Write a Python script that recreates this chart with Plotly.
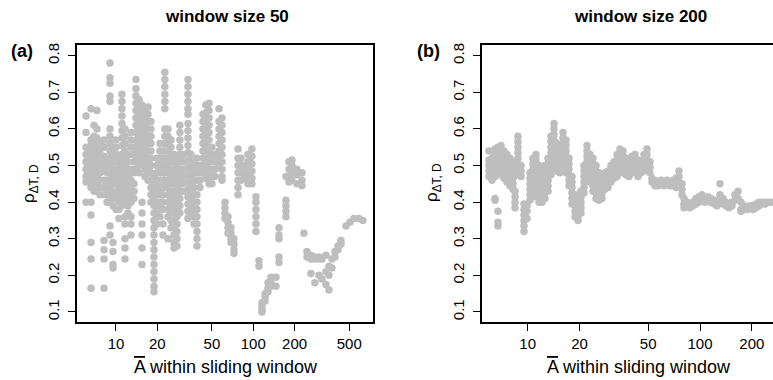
import plotly.graph_objects as go

# ---- window size 50: each column holds correlation values whose window mean sits near one x ----
a_x = [6.05, 6.25, 6.58, 6.92, 7.27, 7.64, 8.18, 8.60, 9.04, 9.51,
       10.0, 10.5, 11.06, 11.63, 12.23, 12.86, 13.52, 13.98, 14.71, 15.47,
       16.26, 17.11, 17.98, 18.91, 19.89, 20.9, 21.99, 22.7, 23.91, 25.15,
       26.45, 27.81, 29.2, 30.76, 33.45, 35.17, 37.0, 38.9, 40.9, 43.0,
       45.2, 47.6, 50.0, 52.6, 56.3, 59.2, 62.2, 65.4, 68.8, 72.3,
       77.4, 81.4, 85.6, 91.5, 97.8, 104.6, 110, 115.7, 122, 128,
       134.6, 146.3, 153.9, 173, 182, 191.4, 208, 226.3, 234, 246,
       263, 281, 301, 316.5, 338.5, 356, 374.4, 393.7, 414, 435.3,
       473.4, 506, 541, 588.6, 629.5]
a_y = [
    [0.635, 0.59, 0.55, 0.53, 0.51, 0.49, 0.47, 0.455, 0.40],
    [0.545, 0.52, 0.50, 0.48, 0.46],
    [0.655, 0.57, 0.555, 0.535, 0.515, 0.50, 0.485, 0.47, 0.455, 0.44, 0.40, 0.365, 0.29, 0.245, 0.165],
    [0.61, 0.58, 0.56, 0.54, 0.52, 0.50, 0.48, 0.46, 0.44, 0.43],
    [0.65, 0.60, 0.575, 0.55, 0.53, 0.51, 0.49, 0.47, 0.45, 0.43],
    [0.56, 0.54, 0.52, 0.50, 0.48, 0.46, 0.44, 0.42],
    [0.57, 0.55, 0.525, 0.505, 0.485, 0.46, 0.44, 0.42, 0.295, 0.27, 0.245, 0.165],
    [0.52, 0.50, 0.48, 0.46, 0.44, 0.42, 0.40],
    [0.78, 0.74, 0.725, 0.69, 0.675, 0.60, 0.58, 0.56, 0.54, 0.52, 0.50, 0.48, 0.46, 0.44, 0.42, 0.40, 0.335, 0.31],
    [0.55, 0.53, 0.51, 0.49, 0.47, 0.45, 0.43, 0.41, 0.39, 0.29, 0.265, 0.23, 0.22],
    [0.57, 0.55, 0.53, 0.51, 0.49, 0.47, 0.45, 0.43, 0.41, 0.38],
    [0.52, 0.50, 0.48, 0.46, 0.44, 0.42, 0.40, 0.38, 0.355],
    [0.695, 0.675, 0.655, 0.635, 0.615, 0.595, 0.575, 0.555, 0.53, 0.51, 0.49, 0.47, 0.45, 0.43, 0.41, 0.39],
    [0.60, 0.58, 0.56, 0.54, 0.52, 0.50, 0.48, 0.46, 0.44, 0.42, 0.40, 0.36, 0.34, 0.30, 0.275, 0.245],
    [0.53, 0.51, 0.49, 0.47, 0.45, 0.43, 0.41, 0.39, 0.37],
    [0.59, 0.57, 0.55, 0.53, 0.49, 0.46, 0.44, 0.42, 0.40, 0.36, 0.34, 0.31],
    [0.55, 0.53, 0.51, 0.48, 0.45, 0.43, 0.41],
    [0.735, 0.71, 0.69, 0.67, 0.65, 0.63, 0.61, 0.59, 0.57, 0.55, 0.53, 0.51, 0.49],
    [0.68, 0.66, 0.64, 0.62, 0.60, 0.58, 0.56, 0.54, 0.52, 0.50, 0.48],
    [0.665, 0.645, 0.625, 0.605, 0.585, 0.565, 0.545, 0.525, 0.505, 0.40, 0.37, 0.34, 0.31, 0.275, 0.23],
    [0.65, 0.63, 0.61, 0.59, 0.57, 0.55, 0.53, 0.51, 0.49, 0.47],
    [0.66, 0.64, 0.62, 0.60, 0.58, 0.56, 0.54, 0.52, 0.50, 0.48, 0.46],
    [0.62, 0.60, 0.58, 0.56, 0.54, 0.52, 0.50, 0.48, 0.44, 0.42, 0.40],
    [0.47, 0.45, 0.43, 0.41, 0.39, 0.37, 0.35, 0.33, 0.31, 0.29, 0.27, 0.25, 0.23, 0.21, 0.19, 0.17, 0.155],
    [0.52, 0.50, 0.48, 0.46, 0.44, 0.42, 0.40, 0.38, 0.36, 0.34],
    [0.56, 0.54, 0.52, 0.50, 0.48, 0.46, 0.44, 0.42, 0.40, 0.38, 0.36],
    [0.54, 0.52, 0.50, 0.48, 0.46, 0.44, 0.42, 0.40, 0.38, 0.34, 0.31],
    [0.755, 0.735, 0.715, 0.695, 0.675, 0.655, 0.60, 0.58, 0.56, 0.54, 0.52, 0.50, 0.48, 0.46, 0.44],
    [0.60, 0.58, 0.56, 0.54, 0.52, 0.50, 0.48, 0.46, 0.44, 0.42, 0.40, 0.38, 0.36, 0.30],
    [0.57, 0.55, 0.53, 0.51, 0.49, 0.47, 0.45, 0.43, 0.41, 0.39, 0.37, 0.35, 0.33],
    [0.53, 0.51, 0.49, 0.47, 0.45, 0.43, 0.41, 0.39, 0.37, 0.35, 0.33, 0.31, 0.29, 0.275],
    [0.52, 0.50, 0.48, 0.46, 0.44, 0.42, 0.40, 0.38, 0.36, 0.34, 0.32, 0.30, 0.28],
    [0.61, 0.59, 0.57, 0.55, 0.53, 0.51, 0.49, 0.47, 0.45, 0.43, 0.41, 0.39, 0.37],
    [0.53, 0.51, 0.49, 0.47, 0.45, 0.43],
    [0.735, 0.715, 0.695, 0.675, 0.655, 0.64, 0.615, 0.595, 0.575, 0.555, 0.535, 0.515, 0.495, 0.475, 0.455, 0.435, 0.415, 0.395, 0.375, 0.355],
    [0.53, 0.51, 0.49, 0.47, 0.45, 0.43, 0.41, 0.39, 0.37],
    [0.50, 0.48, 0.46, 0.44, 0.42, 0.40, 0.38, 0.36, 0.34],
    [0.52, 0.50, 0.48, 0.46, 0.42, 0.40, 0.38, 0.36, 0.34, 0.32, 0.30, 0.28],
    [0.50, 0.48, 0.46, 0.44],
    [0.64, 0.62, 0.60, 0.58, 0.56, 0.54, 0.52, 0.50, 0.48],
    [0.665, 0.645, 0.625, 0.605, 0.585, 0.565, 0.545, 0.525, 0.505, 0.485, 0.465],
    [0.67, 0.65, 0.63, 0.61, 0.59, 0.57, 0.55, 0.53, 0.51, 0.49, 0.47, 0.45],
    [0.55, 0.53, 0.51, 0.49, 0.47, 0.45],
    [0.53, 0.51, 0.49, 0.47],
    [0.655, 0.62, 0.60, 0.58, 0.56, 0.54, 0.52, 0.50],
    [0.63, 0.61, 0.59, 0.57, 0.55, 0.53, 0.51, 0.49, 0.47, 0.46],
    [0.40, 0.385, 0.37, 0.355],
    [0.36, 0.345, 0.33, 0.315],
    [0.33, 0.315, 0.30, 0.29],
    [0.30, 0.285, 0.27, 0.26],
    [0.545, 0.52, 0.50, 0.48, 0.46, 0.44, 0.42],
    [0.52, 0.50, 0.48, 0.46],
    [0.50, 0.48, 0.465],
    [0.53, 0.51, 0.49, 0.47, 0.45],
    [0.545, 0.525, 0.505, 0.485, 0.465, 0.45],
    [0.415, 0.40, 0.38, 0.36, 0.34, 0.32],
    [0.24, 0.225],
    [0.125, 0.115, 0.105, 0.10],
    [0.15, 0.14, 0.13],
    [0.18, 0.165, 0.155],
    [0.195, 0.18, 0.17],
    [0.195, 0.17],
    [0.33, 0.31, 0.30, 0.25, 0.235],
    [0.405, 0.39, 0.375, 0.36, 0.47],
    [0.51, 0.49, 0.47, 0.455],
    [0.515, 0.50, 0.48, 0.46],
    [0.49, 0.475, 0.45],
    [0.48, 0.46, 0.445],
    [0.315],
    [0.265, 0.25],
    [0.255, 0.245, 0.205],
    [0.25, 0.245, 0.18],
    [0.25, 0.245, 0.20],
    [0.245, 0.19],
    [0.255, 0.21, 0.175],
    [0.225, 0.20, 0.16],
    [0.22, 0.245],
    [0.25, 0.265],
    [0.27, 0.28],
    [0.285, 0.295],
    [0.335],
    [0.345],
    [0.355],
    [0.355],
    [0.35],
]

# ---- window size 200 ----
b_x = [5.96, 6.21, 6.46, 6.72, 7.00, 7.29, 7.58, 7.89, 8.22, 8.44,
       8.78, 9.15, 9.52, 9.91, 10.31, 10.73, 11.17, 11.63, 12.11, 12.60,
       13.12, 13.65, 14.21, 14.79, 15.40, 16.03, 16.69, 17.37, 18.07, 18.82,
       19.58, 20.38, 21.22, 22.09, 22.99, 23.93, 24.91, 25.93, 26.99, 28.09,
       29.24, 30.43, 31.69, 32.98, 34.34, 35.74, 37.20, 38.72, 40.30, 41.95,
       43.67, 45.46, 47.32, 49.25, 51.27, 52.65, 54.80, 57.04, 59.38, 61.80,
       64.33, 66.96, 69.70, 72.55, 75.52, 78.61, 80.74, 84.04, 87.48, 91.08,
       94.80, 98.67, 102.7, 106.9, 111.3, 115.8, 120.6, 125.5, 130.6, 136.0,
       141.5, 147.3, 153.4, 159.6, 166.2, 172.9, 180.0, 187.4, 195.1, 203.0,
       211.3, 220.0, 228.9, 238.3, 248.1, 258.3]
b_y = [
    [0.54, 0.515, 0.50, 0.485, 0.47],
    [0.52, 0.505, 0.49, 0.475, 0.46],
    [0.545, 0.53, 0.515, 0.50, 0.485, 0.47, 0.41, 0.405],
    [0.55, 0.535, 0.52, 0.505, 0.49, 0.475, 0.375, 0.345, 0.335],
    [0.555, 0.54, 0.525, 0.51, 0.495, 0.48],
    [0.54, 0.525, 0.51, 0.495, 0.48, 0.465],
    [0.53, 0.515, 0.50, 0.485, 0.47, 0.455],
    [0.52, 0.505, 0.49, 0.475, 0.46, 0.445],
    [0.51, 0.495, 0.48, 0.465, 0.45, 0.435],
    [0.43, 0.415, 0.40, 0.385],
    [0.58, 0.565, 0.55, 0.535, 0.52, 0.505, 0.49, 0.475],
    [0.50, 0.485, 0.47],
    [0.395, 0.38, 0.365, 0.35, 0.335, 0.32],
    [0.39, 0.375, 0.355],
    [0.48, 0.465, 0.45, 0.435, 0.42, 0.405],
    [0.52, 0.505, 0.49, 0.475, 0.46, 0.445, 0.43, 0.415],
    [0.53, 0.515, 0.50, 0.485, 0.47, 0.455, 0.44, 0.425],
    [0.50, 0.485, 0.47, 0.455, 0.44, 0.425, 0.41, 0.40],
    [0.49, 0.475, 0.46, 0.445, 0.43, 0.415, 0.40],
    [0.50, 0.485, 0.47, 0.455, 0.44, 0.425, 0.41],
    [0.52, 0.505, 0.49, 0.475, 0.46, 0.445, 0.43],
    [0.58, 0.565, 0.55, 0.535, 0.52, 0.505, 0.49, 0.475],
    [0.615, 0.60, 0.585, 0.57, 0.555, 0.54, 0.525, 0.51, 0.495],
    [0.56, 0.545, 0.53, 0.515, 0.50, 0.485],
    [0.54, 0.525, 0.51, 0.495, 0.48],
    [0.59, 0.575, 0.56, 0.545, 0.53, 0.515, 0.50],
    [0.57, 0.555, 0.54, 0.525, 0.51, 0.495, 0.48],
    [0.52, 0.505, 0.49, 0.475, 0.46, 0.445],
    [0.47, 0.455, 0.44, 0.425, 0.41, 0.395],
    [0.42, 0.405, 0.39, 0.375, 0.36],
    [0.39, 0.375, 0.36, 0.35],
    [0.43, 0.415, 0.40, 0.385, 0.37],
    [0.50, 0.485, 0.47, 0.455, 0.44, 0.425],
    [0.555, 0.54, 0.525, 0.51, 0.495, 0.48, 0.465],
    [0.53, 0.515, 0.50, 0.485, 0.47, 0.455],
    [0.52, 0.505, 0.49, 0.475, 0.46, 0.445, 0.43],
    [0.50, 0.485, 0.47, 0.455, 0.44, 0.425, 0.41],
    [0.48, 0.465, 0.45, 0.435, 0.42, 0.405],
    [0.47, 0.455, 0.44, 0.425, 0.41],
    [0.48, 0.465, 0.45, 0.435],
    [0.485, 0.47, 0.455, 0.44],
    [0.50, 0.485, 0.47, 0.455],
    [0.51, 0.495, 0.48, 0.465],
    [0.53, 0.515, 0.50, 0.485, 0.47],
    [0.545, 0.53, 0.515, 0.50, 0.485],
    [0.54, 0.525, 0.51, 0.495, 0.48],
    [0.52, 0.505, 0.49, 0.475],
    [0.50, 0.485, 0.47],
    [0.525, 0.51, 0.495, 0.48],
    [0.53, 0.515, 0.50, 0.485],
    [0.515, 0.50, 0.485, 0.47],
    [0.51, 0.495, 0.48],
    [0.53, 0.515, 0.50, 0.485],
    [0.545, 0.53, 0.515, 0.50],
    [0.51, 0.495, 0.48],
    [0.465, 0.455],
    [0.46, 0.445],
    [0.455, 0.445],
    [0.46, 0.45],
    [0.455, 0.445],
    [0.46, 0.45],
    [0.455, 0.445],
    [0.46, 0.445],
    [0.465, 0.45, 0.44],
    [0.485, 0.47, 0.455],
    [0.45, 0.435, 0.42],
    [0.41, 0.395, 0.385],
    [0.39, 0.40],
    [0.385, 0.395],
    [0.40, 0.39],
    [0.41, 0.395],
    [0.415, 0.40],
    [0.42, 0.41],
    [0.41, 0.40],
    [0.415, 0.405],
    [0.41, 0.40],
    [0.405, 0.395],
    [0.40, 0.39],
    [0.45, 0.42, 0.405],
    [0.41, 0.395],
    [0.40, 0.39],
    [0.395, 0.385],
    [0.40, 0.39],
    [0.42, 0.405],
    [0.43, 0.41],
    [0.40, 0.38, 0.375],
    [0.39, 0.38],
    [0.385, 0.38],
    [0.39, 0.385],
    [0.39, 0.38],
    [0.395, 0.385],
    [0.40, 0.39],
    [0.40, 0.395],
    [0.40, 0.395],
    [0.40],
    [0.40],
]

x_ticks = [10, 20, 50, 100, 200, 500]
y_ticks = [0.1, 0.2, 0.3, 0.4, 0.5, 0.6, 0.7, 0.8]
titles = ["window size 50", "window size 200"]
panel_tags = ["(a)", "(b)"]
x_title = "<span style='text-decoration:overline'>A</span> within sliding window"
y_title = "ρ<sub>ΔT, D</sub>"


def flatten(xs, ys):
    px, py = [], []
    for xv, col in zip(xs, ys):
        for yv in col:
            px.append(xv)
            py.append(yv)
    return px, py


W, H = 773, 380
FONT = "Liberation Sans, Arial, Helvetica, sans-serif"
GRAY = "#bebebe"

ax, ay = flatten(a_x, a_y)
bx, by = flatten(b_x, b_y)

fig = go.Figure()
fig.add_trace(go.Scatter(x=ax, y=ay, mode="markers", xaxis="x", yaxis="y",
                         marker=dict(size=7.5, color=GRAY, line=dict(width=0)),
                         showlegend=False, hoverinfo="skip"))
fig.add_trace(go.Scatter(x=bx, y=by, mode="markers", xaxis="x2", yaxis="y2",
                         marker=dict(size=7.5, color=GRAY, line=dict(width=0)),
                         showlegend=False, hoverinfo="skip"))

top_px, bot_px = 43.3, 321.7
ydom = [1 - bot_px / H, 1 - top_px / H]

common_x = dict(type="log", tickmode="array", tickvals=x_ticks,
                ticktext=[str(v) for v in x_ticks], ticks="outside", ticklen=7,
                tickwidth=1, tickcolor="black", showline=True, linecolor="black",
                linewidth=2, showgrid=False, zeroline=False,
                tickfont=dict(family=FONT, size=15, color="black"),
                ticklabelstandoff=0)
common_y = dict(range=[0.0726, 0.829], tickmode="array", tickvals=y_ticks,
                ticktext=[f"{v:.1f}" for v in y_ticks], ticks="outside", ticklen=7,
                tickwidth=1, tickcolor="black", showline=True, linecolor="black",
                linewidth=2, showgrid=False, zeroline=False, tickangle=-90,
                tickfont=dict(family=FONT, size=15, color="black"),
                ticklabelstandoff=3)

fig.update_layout(
    width=W, height=H,
    margin=dict(l=0, r=0, t=0, b=0),
    paper_bgcolor="white", plot_bgcolor="white",
    xaxis=dict(common_x, domain=[77 / W, 372.7 / W], range=[0.716, 2.870],
               mirror=True, anchor="y"),
    yaxis=dict(common_y, domain=ydom, mirror=True, anchor="x"),
    xaxis2=dict(common_x, domain=[481.7 / W, 1.0], range=[0.733, 2.4237],
                mirror=True, anchor="y2"),
    yaxis2=dict(common_y, domain=ydom, mirror=False, anchor="x2"),
)

ann = []
for cx, title in zip([227, 640], titles):
    ann.append(dict(x=cx / W, y=1 - 15 / H, xref="paper", yref="paper",
                    text=f"<b>{title}</b>", showarrow=False,
                    font=dict(family=FONT, size=17, color="black"),
                    xanchor="center", yanchor="middle"))
for cx, tag in zip([22, 429], panel_tags):
    ann.append(dict(x=cx / W, y=1 - 49 / H, xref="paper", yref="paper",
                    text=f"<b>{tag}</b>", showarrow=False,
                    font=dict(family=FONT, size=18, color="black"),
                    xanchor="center", yanchor="middle"))
for cx in [30, 433]:
    ann.append(dict(x=cx / W, y=1 - 182 / H, xref="paper", yref="paper",
                    text=y_title, showarrow=False, textangle=-90,
                    font=dict(family=FONT, size=17, color="black"),
                    xanchor="center", yanchor="middle"))
for cx in [226, 639]:
    ann.append(dict(x=cx / W, y=1 - 367 / H, xref="paper", yref="paper",
                    text=x_title, showarrow=False,
                    font=dict(family=FONT, size=18, color="black"),
                    xanchor="center", yanchor="middle"))
fig.update_layout(annotations=ann)

fig.write_html("out.html")
